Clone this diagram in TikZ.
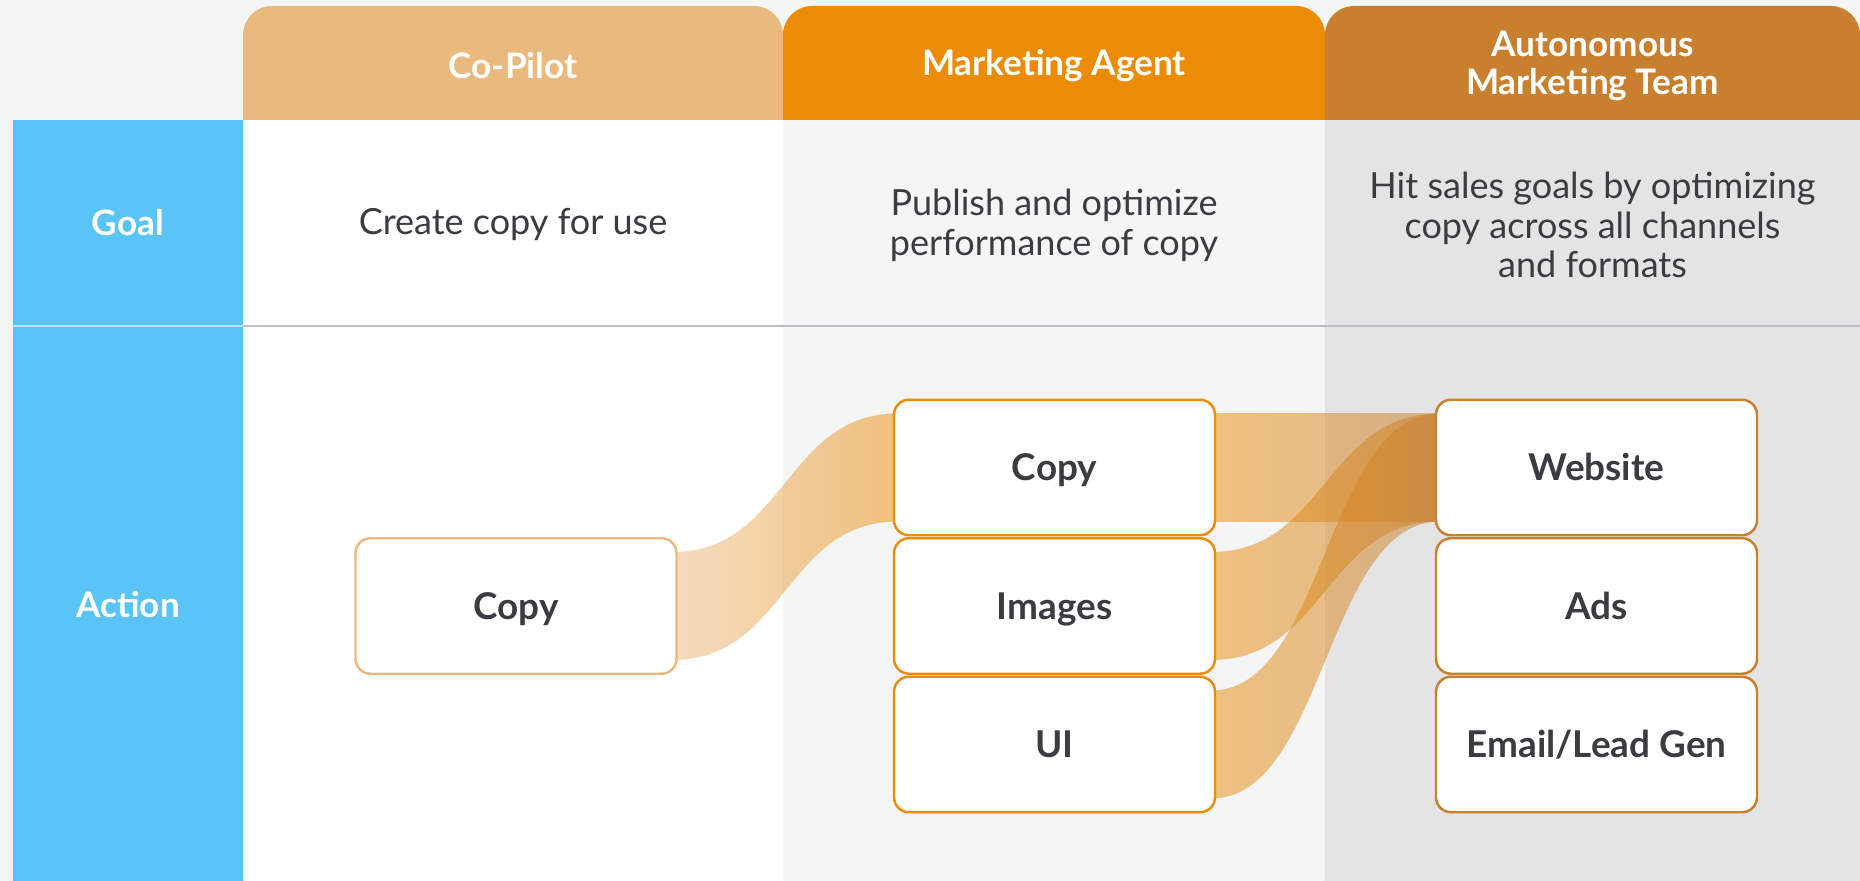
\documentclass[tikz,border=0pt]{standalone}
\usepackage{fontspec}
\setmainfont{Lato}
\usepackage{tikz}
\usetikzlibrary{calc,backgrounds}

\definecolor{bgGray}{HTML}{F4F6F5}
\definecolor{colGray}{HTML}{E4E4E4}
\definecolor{skyBlue}{HTML}{5BC4F6}
\definecolor{hdrA}{HTML}{EAB97D}
\definecolor{hdrB}{HTML}{EC8B06}
\definecolor{hdrC}{HTML}{C8802F}
\definecolor{ink}{HTML}{3B3C41}
\definecolor{rowLine}{HTML}{BDBDC3}

\begin{document}
\begin{tikzpicture}[line join=round,
	hd/.style={text=white, align=center, font=\bfseries\fontsize{20}{21.6}\selectfont},
	gl/.style={text=ink, align=center, font=\fontsize{20.5}{22.7}\selectfont},
	box/.style={fill=white, line width=1.4pt, rounded corners=0.3cm,
		minimum width=6.42cm, minimum height=2.71cm, text=ink,
		text height=15pt, text depth=0pt, font=\bfseries\fontsize{21}{24}\selectfont}]
	
	\useasboundingbox (0,0) rectangle (37.2,17.62);
	
	% --- 1. 背景、表头与各列 ---
	\begin{scope}[on background layer]
		\fill[bgGray] (0,0) rectangle (37.2,17.62);
		% 表头只要上方圆角, 下半部分被列底色盖住
		\fill[hdrA, rounded corners=0.58cm] (4.86,14.6) rectangle (15.66,17.5);
		\fill[hdrB, rounded corners=0.58cm] (15.66,14.6) rectangle (26.5,17.5);
		\fill[hdrC, rounded corners=0.58cm] (26.5,14.6) rectangle (37.2,17.5);
		% 列底色
		\fill[skyBlue] (0.26,0) rectangle (4.86,15.22);
		\fill[white] (4.86,0) rectangle (15.66,15.22);
		\fill[bgGray] (15.66,0) rectangle (26.5,15.22);
		\fill[colGray] (26.5,0) rectangle (37.2,15.22);
		% Goal / Action 分隔线
		\draw[rowLine, line width=1.1pt] (4.86,11.1) -- (37.2,11.1);
		\draw[white!55!skyBlue, line width=0.8pt] (0.26,11.1) -- (4.86,11.1);
	\end{scope}
	
	% --- 2. 表头与行标题 ---
	\node[hd] (H1) at (10.26,16.3) {Co-Pilot};
	\node[hd] (H2) at (21.08,16.3) {Marketing Agent};
	\node[hd] (H3) at (31.85,16.3) {Autonomous\\Marketing Team};
	
	\node[hd] (G) at (2.56,13.16) {Goal};
	\node[hd] (A) at (2.56,5.52) {Action};
	
	% --- 3. Goal 一行的文字 ---
	\node[gl] (G1) at (10.26,13.12) {Create copy for use};
	\node[gl] (G2) at (21.08,13.12) {Publish and optimize\\performance of copy};
	\node[gl] (G3) at (31.85,13.12) {Hit sales goals by optimizing\\copy across all channels\\and formats};
	
	% --- 4. Action 一行的方框 ---
	\node[box, draw=hdrA] (P1) at (10.32,5.5) {Copy};
	
	\node[box, draw=hdrB] (M1) at (21.09,8.27) {Copy};
	\node[box, draw=hdrB] (M2) at (21.09,5.5) {Images};
	\node[box, draw=hdrB] (M3) at (21.09,2.73) {UI};
	
	\node[box, draw=hdrC] (T1) at (31.93,8.27) {Website};
	\node[box, draw=hdrC] (T2) at (31.93,5.5) {Ads};
	\node[box, draw=hdrC] (T3) at (31.93,2.73) {Email/Lead Gen};
	
	% --- 5. 流向带 (放在方框下面) ---
	\begin{scope}[on background layer]
		% P1 -> M1
		\shade[left color=hdrA, right color=hdrB, opacity=0.5]
		($(P1.east)+(-0.1,1.08)$) .. controls ($(P1.east)+(2.15,1.08)$) and ($(M1.west)+(-2.15,1.08)$) .. ($(M1.west)+(0.1,1.08)$)
		-- ($(M1.west)+(0.1,-1.08)$) .. controls ($(M1.west)+(-2.15,-1.08)$) and ($(P1.east)+(2.15,-1.08)$) .. ($(P1.east)+(-0.1,-1.08)$) -- cycle;
		
		% M1 -> T1
		\shade[left color=hdrB, right color=hdrC, opacity=0.5]
		($(M1.east)+(-0.1,1.08)$) .. controls ($(M1.east)+(2.18,1.08)$) and ($(T1.west)+(-2.18,1.08)$) .. ($(T1.west)+(0.1,1.08)$)
		-- ($(T1.west)+(0.1,-1.08)$) .. controls ($(T1.west)+(-2.18,-1.08)$) and ($(M1.east)+(2.18,-1.08)$) .. ($(M1.east)+(-0.1,-1.08)$) -- cycle;
		
		% M2 -> T1
		\shade[left color=hdrB, right color=hdrC, opacity=0.5]
		($(M2.east)+(-0.1,1.08)$) .. controls ($(M2.east)+(2.18,1.08)$) and ($(T1.west)+(-2.18,1.08)$) .. ($(T1.west)+(0.1,1.08)$)
		-- ($(T1.west)+(0.1,-1.08)$) .. controls ($(T1.west)+(-2.18,-1.08)$) and ($(M2.east)+(2.18,-1.08)$) .. ($(M2.east)+(-0.1,-1.08)$) -- cycle;
		
		% M3 -> T1
		\shade[left color=hdrB, right color=hdrC, opacity=0.5]
		($(M3.east)+(-0.1,1.08)$) .. controls ($(M3.east)+(2.18,1.08)$) and ($(T1.west)+(-2.18,1.08)$) .. ($(T1.west)+(0.1,1.08)$)
		-- ($(T1.west)+(0.1,-1.08)$) .. controls ($(T1.west)+(-2.18,-1.08)$) and ($(M3.east)+(2.18,-1.08)$) .. ($(M3.east)+(-0.1,-1.08)$) -- cycle;
	\end{scope}
	
\end{tikzpicture}
\end{document}
